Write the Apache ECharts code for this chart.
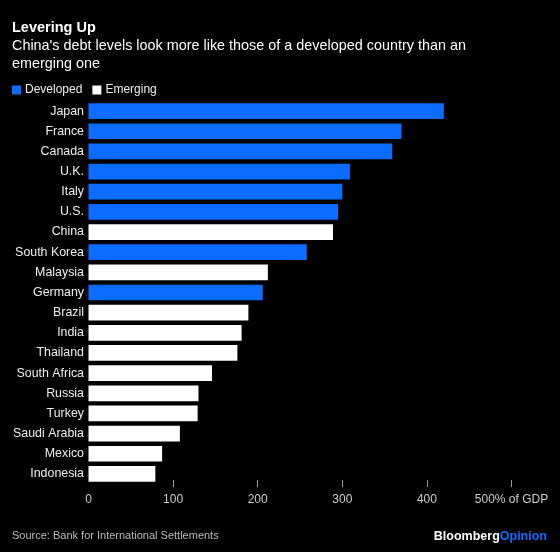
<!DOCTYPE html>
<html><head><meta charset="utf-8">
<script src="https://cdn.jsdelivr.net/npm/echarts@6/dist/echarts.min.js"></script>
<style>html,body{margin:0;padding:0;background:#000}#c{width:560px;height:552px}</style>
</head><body><div id="c"></div>
<script>
const categories = ["Japan","France","Canada","U.K.","Italy","U.S.","China","South Korea","Malaysia","Germany","Brazil","India","Thailand","South Africa","Russia","Turkey","Saudi Arabia","Mexico","Indonesia"];
const values = [420,370,359,309,300,295,289,258,212,206,189,181,176,146,130,129,108,87,79];
const groups = ["D","D","D","D","D","D","E","D","E","D","E","E","E","E","E","E","E","E","E"];
const xTicks = [0,100,200,300,400,500];
const xUnit = "% of GDP";

const BLUE = "#0b6cff";
const FONT = "Liberation Sans, Arial, sans-serif";
const devData = values.map((v,i)=>groups[i]==="D"?v:"-");
const emData = values.map((v,i)=>groups[i]==="E"?v:"-");

const chart = echarts.init(document.getElementById('c'));
chart.setOption({
  backgroundColor:"#000",
  animation:false,
  textStyle:{fontFamily:FONT},
  title:[
    {text:"Levering Up",left:12,top:20,padding:0,textStyle:{color:"#fff",fontSize:14.5,fontWeight:"bold",fontFamily:FONT}},
    {text:"China's debt levels look more like those of a developed country than an\nemerging one",left:12,top:36.5,padding:0,textStyle:{color:"#fff",fontSize:14.4,fontWeight:"normal",lineHeight:18.4,fontFamily:FONT}},
    {text:"Source: Bank for International Settlements",left:12,top:530.5,padding:0,textStyle:{color:"#bbb",fontSize:11,fontWeight:"normal",fontFamily:FONT}},
    {text:"{a|Bloomberg}{b|Opinion}",right:13,top:530,padding:0,textStyle:{rich:{a:{color:"#fff",fontSize:12.5,fontWeight:"bold",fontFamily:FONT},b:{color:BLUE,fontSize:12.5,fontWeight:"bold",fontFamily:FONT}}}}
  ],
  legend:{left:12,top:84,padding:0,icon:"rect",itemWidth:9,itemHeight:9,itemGap:10,
    textStyle:{color:"#eee",fontSize:12,fontFamily:FONT,padding:[0,0,0,-1]},
    data:["Developed","Emerging"]},
  grid:{left:88.5,right:48.5,top:101,bottom:68,containLabel:false},
  xAxis:{type:"value",min:xTicks[0],max:xTicks[xTicks.length-1],interval:100,offset:-4,
    axisLine:{show:false},
    axisTick:{show:true,length:7,customValues:xTicks.slice(1),lineStyle:{color:"#999",width:1}},
    splitLine:{show:false},
    axisLabel:{color:"#ccc",fontSize:12,margin:14,fontFamily:FONT,
      formatter:(v)=>v===xTicks[xTicks.length-1]?v+xUnit:String(v)}},
  yAxis:{type:"category",data:categories,inverse:true,
    axisLine:{show:false},axisTick:{show:false},
    axisLabel:{color:"#eee",fontSize:12.4,margin:4.5,fontFamily:FONT}},
  series:[
    {name:"Developed",type:"bar",stack:"a",data:devData,barCategoryGap:"22%",itemStyle:{color:BLUE}},
    {name:"Emerging",type:"bar",stack:"a",data:emData,barCategoryGap:"22%",itemStyle:{color:"#fff"}}
  ]
});
</script></body></html>
